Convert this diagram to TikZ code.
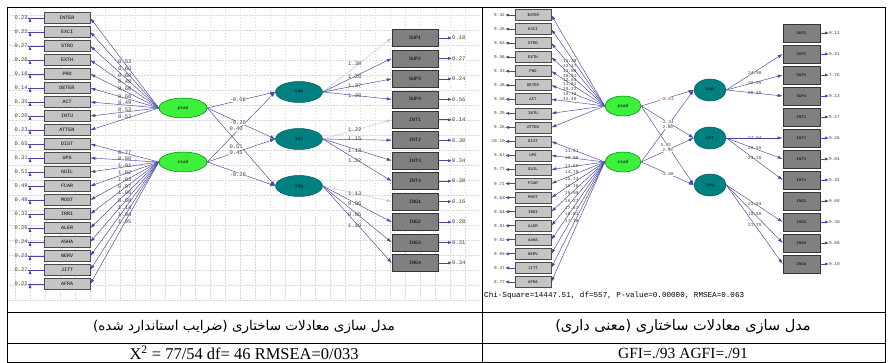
\documentclass[tikz,border=0pt]{standalone}
\usepackage{fontspec}
\setmainfont{Liberation Serif}
\newfontfamily\monof{Liberation Mono}
\newfontfamily\arabicfont[Script=Arabic]{DejaVu Sans}
\TeXXeTstate=1
\usetikzlibrary{shapes.geometric,arrows.meta}
\definecolor{pathc}{RGB}{70,70,165}
\definecolor{lgreen}{RGB}{60,240,60}
\definecolor{tealc}{RGB}{0,128,128}
\definecolor{dgray}{RGB}{128,128,128}
\definecolor{lgray}{RGB}{196,196,196}
\definecolor{gridc}{RGB}{215,215,215}
\definecolor{numc}{RGB}{60,60,60}
\tikzset{
  lbox/.style={draw=black!70, fill=lgray, minimum width=46pt, minimum height=11pt, inner sep=0pt, line width=0.6pt, font=\monof\fontsize{5}{5}\selectfont},
  gbox/.style={draw=black!80, fill=dgray, minimum width=46pt, minimum height=17pt, inner sep=0pt, line width=0.6pt, font=\monof\fontsize{5}{5}\selectfont},
  rbox/.style={draw=black!70, fill=lgray, minimum width=36pt, minimum height=11pt, inner sep=0pt, line width=0.6pt, font=\monof\fontsize{4}{4}\selectfont},
  rgbox/.style={draw=black!80, fill=dgray, minimum width=37pt, minimum height=18pt, inner sep=0pt, line width=0.6pt, font=\monof\fontsize{4}{4}\selectfont},
  latg/.style={ellipse, draw=green!50!black, fill=lgreen, inner sep=0pt, line width=0.5pt, font=\monof\fontsize{4.5}{4.5}\selectfont},
  latt/.style={ellipse, draw=tealc!70!black, fill=tealc, inner sep=0pt, line width=0.5pt, font=\monof\fontsize{4.5}{4.5}\selectfont},
  parr/.style={draw=pathc, line width=0.45pt, -{Latex[length=5pt,width=3.2pt]}},
  garr/.style={draw=gray!45, line width=0.45pt, -{Latex[length=5pt,width=3.2pt]}},
  earr/.style={draw=pathc, line width=0.7pt, -{Latex[length=4pt,width=3.2pt]}},
  numl/.style={inner sep=0pt, text=numc, font=\monof\fontsize{5.5}{5.5}\selectfont},
  numr/.style={inner sep=0pt, text=numc, font=\monof\fontsize{4.4}{4.4}\selectfont},
  gridl/.style={draw=gridc, line width=0.4pt, dash pattern=on 1.5pt off 1.5pt},
  tline/.style={draw=black, line width=0.8pt}
}
\begin{document}
\begin{tikzpicture}[x=1pt,y=-1pt]
\useasboundingbox (0,0) rectangle (888,363);
\fill[white] (0,0) rectangle (888,363);
% grid of the left panel
\foreach \gx in {15,30,...,475} \draw[gridl] (\gx,9) -- (\gx,300);
\foreach \gy in {15,30,...,300} \draw[gridl] (9,\gy) -- (480,\gy);

% ================= LEFT PANEL =================
\node[latg, minimum width=48pt, minimum height=20pt] (psad) at (183,108) {psad};
\node[latg, minimum width=48pt, minimum height=20pt] (nsad) at (183,162) {nsad};
\node[latt, minimum width=47pt, minimum height=21pt] (sup) at (299,92) {sup};
\node[latt, minimum width=47pt, minimum height=21pt] (int) at (299,139) {int};
\node[latt, minimum width=47pt, minimum height=21pt] (ing) at (299,186) {ing};

\foreach \n/\e [count=\i from 0] in {INTER/0.23,EXCI/0.22,STRO/0.27,EXTH/0.26,PRO/0.16,DETER/0.14,ACT/0.35,INTU/0.20,ATTEN/0.23,DIST/0.65,UPS/0.31,GUIL/0.52,FCAR/0.49,MOST/0.48,IRRI/0.32,ALER/0.26,ASHA/0.24,NERV/0.23,JITT/0.27,AFRA/0.22} {
  \node[lbox] (L\i) at (67,{18+14*\i}) {\n};
  \node[numl, anchor=east] (LE\i) at (28,{18+14*\i}) {\e};
  \draw[earr] (L\i.west) -- (LE\i.east) ++(2,0);
}
\foreach \i in {0,...,8} \draw[parr] (psad.west) -- (L\i.east);
\foreach \i in {9,...,19} \draw[parr] (nsad.west) -- (L\i.east);
\foreach \v/\y [count=\k] in {0.53/62,0.63/69,0.60/76,0.48/82,0.60/89,0.68/97,0.49/103,0.53/110,0.53/117,0.77/153,0.80/159,1.01/166,1.02/173,1.03/180,0.97/187,1.06/193,0.58/201,1.14/208,1.04/215,1.05/222}
  \node[numl, anchor=west] (LL\k) at (118,\y) {\v};

\foreach \n/\e [count=\i from 0] in {SUP1/0.18,SUP2/0.27,SUP3/0.24,SUP4/0.56,INT1/0.14,INT2/0.30,INT3/0.34,INT4/0.38,ING1/0.16,ING2/0.28,ING3/0.31,ING4/0.34} {
  \node[gbox] (G\i) at (415,{38+20.45*\i}) {\n};
  \node[numl, anchor=west] (GE\i) at (452,{38+20.45*\i}) {\e};
  \draw[earr] (G\i.east) -- (GE\i.west);
}
\draw[garr] (sup.east) -- (G0.west);
\foreach \i in {1,2,3} \draw[parr] (sup.east) -- (G\i.west);
\draw[garr] (int.east) -- (G4.west);
\foreach \i in {5,6,7} \draw[parr] (int.east) -- (G\i.west);
\draw[garr] (ing.east) -- (G8.west);
\foreach \i in {9,10,11} \draw[parr] (ing.east) -- (G\i.west);
\foreach \v/\y [count=\k] in {1.30/64,1.28/77,1.37/86,1.20/96,1.22/130,1.15/139,1.13/151,1.22/161,1.13/194,0.96/204,0.95/215,1.10/226}
  \node[numl, anchor=west] (GL\k) at (348,\y) {\v};

\draw[parr] (psad.east) -- (sup.west);
\draw[parr] (psad.east) -- (int.west);
\draw[parr] (psad.east) -- (ing.west);
\draw[parr] (nsad.east) -- (sup.west);
\draw[parr] (nsad.east) -- (int.west);
\draw[parr] (nsad.east) -- (ing.west);
\foreach \v/\y [count=\k] in {-0.08/100,-0.20/123,0.40/129,0.51/147,0.45/153,-0.28/175}
  \node[numl, anchor=west, fill=white, inner sep=0.3pt] (SL\k) at (229,\y) {\v};

% ================= RIGHT PANEL =================
\node[latg, minimum width=36pt, minimum height=20pt] (rpsad) at (623,106) {psad};
\node[latg, minimum width=36pt, minimum height=20pt] (rnsad) at (623,162) {nsad};
\node[latt, minimum width=32pt, minimum height=22pt] (rsup) at (710,90) {sup};
\node[latt, minimum width=32pt, minimum height=22pt] (rint) at (710,138) {int};
\node[latt, minimum width=32pt, minimum height=22pt] (ring) at (710,185) {ing};

\foreach \n/\e [count=\i from 0] in {INTER/9.32,EXCI/9.28,STRO/9.63,EXTH/9.58,PRO/9.33,DETER/9.48,ACT/9.58,INTU/9.29,ATTEN/9.26,DIST/10.10,UPS/9.67,GUIL/9.77,FCAR/9.71,MOST/9.63,IRRI/9.64,ALER/9.51,ASHA/9.52,NERV/9.65,JITT/9.37,AFRA/8.77} {
  \node[rbox] (R\i) at (533,{15+14.05*\i}) {\n};
  \node[numr, anchor=east] (RE\i) at (505,{15+14.05*\i}) {\e};
  \draw[earr] (R\i.west) -- (RE\i.east);
}
\foreach \i in {0,...,8} \draw[parr] (rpsad.west) -- (R\i.east);
\foreach \i in {9,...,19} \draw[parr] (rnsad.west) -- (R\i.east);
\foreach \v/\y [count=\k] in {11.39/61,12.47/66,11.68/71,10.91/76,12.84/80,11.81/84,10.22/89,14.70/94,12.48/99}
  \node[numr, anchor=west] (RL\k) at (563,\y) {\v};
\foreach \v/\y [count=\k] in {11.51/151,13.90/158,14.68/166,14.79/172,15.13/179,15.16/186,15.09/193,16.27/201,17.27/208,16.81/214,17.30/221}
  \node[numr, anchor=west] (RM\k) at (565,\y) {\v};

\foreach \n/\e [count=\i from 0] in {SUP1/9.12,SUP2/9.31,SUP3/7.76,SUP4/9.13,INT1/9.27,INT2/9.26,INT3/9.84,INT4/9.32,ING1/9.68,ING2/9.30,ING3/9.68,ING4/9.10} {
  \node[rgbox] (Q\i) at (801.5,{33+21*\i}) {\n};
  \node[numr, anchor=west] (QE\i) at (829,{33+21*\i}) {\e};
  \draw[earr] (Q\i.east) -- (QE\i.west);
}
\foreach \i in {1,2,3} \draw[parr] (rsup.east) -- (Q\i.west);
\foreach \i in {5,6,7} \draw[parr] (rint.east) -- (Q\i.west);
\foreach \i in {9,10,11} \draw[parr] (ring.east) -- (Q\i.west);
\foreach \v/\y [count=\k] in {24.98/73,28.55/83,20.85/93,24.04/138,23.55/148,24.38/158,21.94/204,18.58/214,21.75/225}
  \node[numr, anchor=west] (QL\k) at (748,\y) {\v};

\draw[parr] (rpsad.east) -- (rsup.west);
\draw[parr] (rpsad.east) -- (rint.west);
\draw[parr] (rpsad.east) -- (ring.west);
\draw[parr] (rnsad.east) -- (rsup.west);
\draw[parr] (rnsad.east) -- (rint.west);
\draw[parr] (rnsad.east) -- (ring.west);
\node[numr, anchor=west, text=red, fill=white, inner sep=0.3pt] (T1) at (660,99) {-0.81};
\node[numr, anchor=west, fill=white, inner sep=0.3pt] (T2) at (660,122) {-2.34};
\node[numr, anchor=west, fill=white, inner sep=0.3pt] (T3) at (662,127) {2.80};
\node[numr, anchor=west, fill=white, inner sep=0.3pt] (T4) at (660,145) {5.93};
\node[numr, anchor=west, fill=white, inner sep=0.3pt] (T5) at (662,150) {2.96};
\node[numr, anchor=west, fill=white, inner sep=0.3pt] (T6) at (660,174) {-3.88};

\node[anchor=west, inner sep=0pt, font=\monof\fontsize{7.6}{8}\selectfont] (chi) at (484,296) {Chi-Square=14447.51, df=557, P-value=0.00000, RMSEA=0.063};

% ================= TABLE =================
\draw[tline] (7,7) rectangle (885,362);
\draw[tline] (482,7) -- (482,362);
\draw[tline] (7,312) -- (885,312);
\draw[tline] (7,343) -- (885,343);
\node[font=\arabicfont\fontsize{13.5}{13.5}\selectfont] (cap1) at (244,327) {\beginR مدل سازی معادلات ساختاری (ضرایب استاندارد شده)\endR};
\node[font=\arabicfont\fontsize{14.5}{14.5}\selectfont] (cap2) at (683,327) {\beginR مدل سازی معادلات ساختاری (معنی داری)\endR};
\node[font=\fontsize{16.5}{16.5}\selectfont] (fit1) at (244,353) {X\textsuperscript{2} = 77/54 df= 46 RMSEA=0/033};
\node[font=\fontsize{15.5}{15.5}\selectfont] (fit2) at (683,353) {GFI=./93 AGFI=./91};
\end{tikzpicture}
\end{document}
